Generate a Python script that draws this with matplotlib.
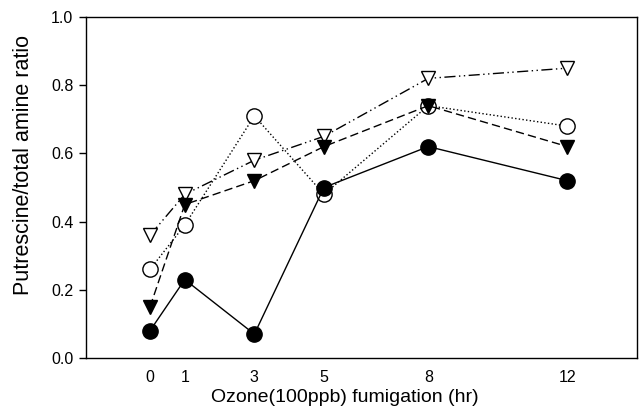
import numpy as np
import matplotlib
matplotlib.use("Agg")
import matplotlib.pyplot as plt

plt.rcParams['font.family'] = ['Liberation Sans', 'DejaVu Sans']

hours = [0, 1, 3, 5, 8, 12]
filledCircle = [0.08, 0.23, 0.07, 0.50, 0.62, 0.52]
openCircle = [0.26, 0.39, 0.71, 0.48, 0.74, 0.68]
filledTri = [0.15, 0.45, 0.52, 0.62, 0.74, 0.62]
openTri = [0.36, 0.48, 0.58, 0.65, 0.82, 0.85]
yTicks = [0.0, 0.2, 0.4, 0.6, 0.8, 1.0]

fig = plt.figure(figsize=(6.39, 4.07), dpi=100)
ax = fig.add_axes([86 / 639, 1 - 358 / 407, (637 - 86) / 639, (358 - 17) / 407])

ax.plot(hours, openTri, color='black', lw=1, dashes=(8, 2.5, 1, 2.5, 1, 2.5),
        marker='v', ms=10, mfc='white', mec='black', mew=1)
ax.plot(hours, openCircle, color='black', lw=1, ls=':',
        marker='o', ms=11, mfc='white', mec='black', mew=1)
ax.plot(hours, filledTri, color='black', lw=1, dashes=(6, 3),
        marker='v', ms=10, mfc='black', mec='black')
ax.plot(hours, filledCircle, color='black', lw=1, ls='-',
        marker='o', ms=11, mfc='black', mec='black')

ax.set_xlim(-1.84, 14.0)
ax.set_ylim(0, 1.0)
ax.set_xticks(hours)
ax.set_xticklabels([str(h) for h in hours])
ax.set_yticks(yTicks)
ax.set_yticklabels(['%.1f' % v for v in yTicks])
ax.tick_params(axis='x', length=0, pad=8.5, labelsize=11.5)
ax.tick_params(axis='y', direction='out', length=5, width=1, pad=4, labelsize=11.5)
for s in ax.spines.values():
    s.set_linewidth(1)

# axis titles sit a bit off-centre in the original
fig.text(345 / 639, 1 - 402 / 407, 'Ozone(100ppb) fumigation (hr)',
         fontsize=14, ha='center', va='baseline')
fig.text(24 / 639, 1 - 165 / 407, 'Putrescine/total amine ratio',
         fontsize=15.5, rotation=90, ha='center', va='center')

fig.savefig('out.png', dpi=100)
